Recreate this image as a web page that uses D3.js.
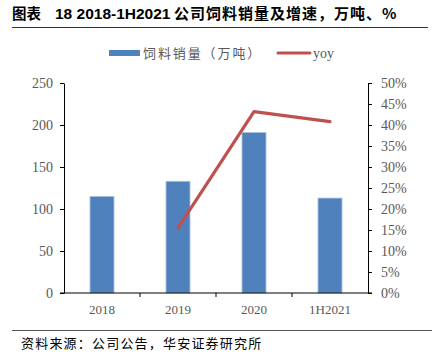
<!DOCTYPE html>
<html><head><meta charset="utf-8">
<script src="https://cdn.jsdelivr.net/npm/d3@7"></script>
<style>body{margin:0;background:#fff;} svg{display:block;}</style>
</head><body>
<svg id="c" width="432" height="359"></svg>
<script>
const categories = ["2018", "2019", "2020", "1H2021"];
const sales = [115, 133, 191, 113];
const yoy = [null, 15.5, 43.2, 40.8];
const leftTicks = [0, 50, 100, 150, 200, 250];
const rightTicks = [0, 5, 10, 15, 20, 25, 30, 35, 40, 45, 50];

const svg = d3.select("#c");
const m = {l: 64, r: 368, t: 83, b: 293};
const x = d3.scaleBand().domain(categories).range([m.l, m.r]);
const yL = d3.scaleLinear().domain([0, 250]).range([m.b, m.t]);
const yR = d3.scaleLinear().domain([0, 50]).range([m.b, m.t]);

// title
const title = svg.append("text").attr("y", 19).attr("font-weight", "bold").attr("fill", "#000");
title.append("tspan").attr("x", 12).attr("font-family", "'Noto Sans CJK SC', sans-serif")
  .attr("font-size", 14.5).text("图表");
title.append("tspan").attr("x", 55).attr("font-family", "'Liberation Sans', Arial, sans-serif")
  .attr("font-size", 15.5).text("18 2018-1H2021");
title.append("tspan").attr("x", 174).attr("font-family", "'Noto Sans CJK SC', sans-serif")
  .attr("font-size", 15).attr("letter-spacing", 1).text("公司饲料销量及增速，万吨、%");
svg.append("line").attr("x1", 12).attr("x2", 428).attr("y1", 27.5).attr("y2", 27.5)
  .attr("stroke", "#333").attr("stroke-width", 1);

// bars
const bw = 24;
svg.append("g").selectAll("rect").data(categories).join("rect")
  .attr("x", (d) => x(d) + x.bandwidth()/2 - bw/2)
  .attr("y", (d, i) => yL(sales[i]))
  .attr("width", bw)
  .attr("height", (d, i) => yL(0) - yL(sales[i]))
  .attr("fill", "#4F81BD").attr("stroke", "#A7C0DE").attr("stroke-width", 0.8);

// axes
const axisFont = (g, size) => g.selectAll("text")
  .attr("font-family", "'Liberation Serif', 'Times New Roman', serif")
  .attr("font-size", size).attr("fill", "#595959");

const gL = svg.append("g").attr("transform", `translate(${m.l},0)`)
  .call(d3.axisLeft(yL).tickValues(leftTicks).tickSize(4).tickSizeOuter(0).tickPadding(7));
gL.select(".domain").attr("stroke", "#000");
gL.selectAll(".tick line").attr("stroke", "#000");
axisFont(gL, 14);

const gR = svg.append("g").attr("transform", `translate(${m.r},0)`)
  .call(d3.axisRight(yR).tickValues(rightTicks).tickFormat(d => d + "%").tickSize(4).tickSizeOuter(0).tickPadding(9));
gR.select(".domain").attr("stroke", "#000");
gR.selectAll(".tick line").attr("stroke", "#000");
axisFont(gR, 14);

// x axis
const gX = svg.append("g").attr("transform", `translate(0,${m.b})`);
gX.append("line").attr("x1", m.l - 4).attr("x2", m.r + 4).attr("stroke", "#000");
gX.selectAll("line.t").data(categories.slice(1)).join("line").attr("class", "t")
  .attr("x1", d => x(d)).attr("x2", d => x(d)).attr("y1", 0).attr("y2", 4).attr("stroke", "#000");
gX.selectAll("text").data(categories).join("text")
  .attr("x", d => x(d) + x.bandwidth()/2).attr("y", 20.5)
  .attr("text-anchor", "middle")
  .attr("font-family", "'Liberation Serif', 'Times New Roman', serif")
  .attr("font-size", 13).attr("fill", "#595959").text(d => d);

// line
const pts = categories.map((c, i) => [c, yoy[i]]).filter(d => d[1] != null);
svg.append("path").datum(pts)
  .attr("d", d3.line().x(d => x(d[0]) + x.bandwidth()/2).y(d => yR(d[1])))
  .attr("fill", "none").attr("stroke", "#C0504D").attr("stroke-width", 3.2)
  .attr("stroke-linecap", "round").attr("stroke-linejoin", "round");

// legend
const lg = svg.append("g");
lg.append("rect").attr("x", 109).attr("y", 50).attr("width", 31).attr("height", 6).attr("fill", "#4F81BD");
lg.append("text").attr("x", 143).attr("y", 58).attr("font-family", "'Noto Sans CJK SC', sans-serif")
  .attr("font-size", 13).attr("letter-spacing", 1.9).attr("fill", "#595959").text("饲料销量（万吨）");
lg.append("line").attr("x1", 278).attr("x2", 310).attr("y1", 53).attr("y2", 53)
  .attr("stroke", "#C0504D").attr("stroke-width", 3).attr("stroke-linecap", "round");
lg.append("text").attr("x", 313).attr("y", 58).attr("font-family", "'Liberation Serif', 'Times New Roman', serif")
  .attr("font-size", 14).attr("fill", "#595959").text("yoy");

// source
svg.append("line").attr("x1", 12).attr("x2", 432).attr("y1", 330.5).attr("y2", 330.5)
  .attr("stroke", "#555").attr("stroke-width", 1.2);
svg.append("text").attr("x", 21).attr("y", 348).attr("font-family", "'Noto Sans CJK SC', sans-serif")
  .attr("font-size", 13).attr("letter-spacing", 1.2).attr("fill", "#000").text("资料来源：公司公告，华安证券研究所");
</script>
</body></html>
